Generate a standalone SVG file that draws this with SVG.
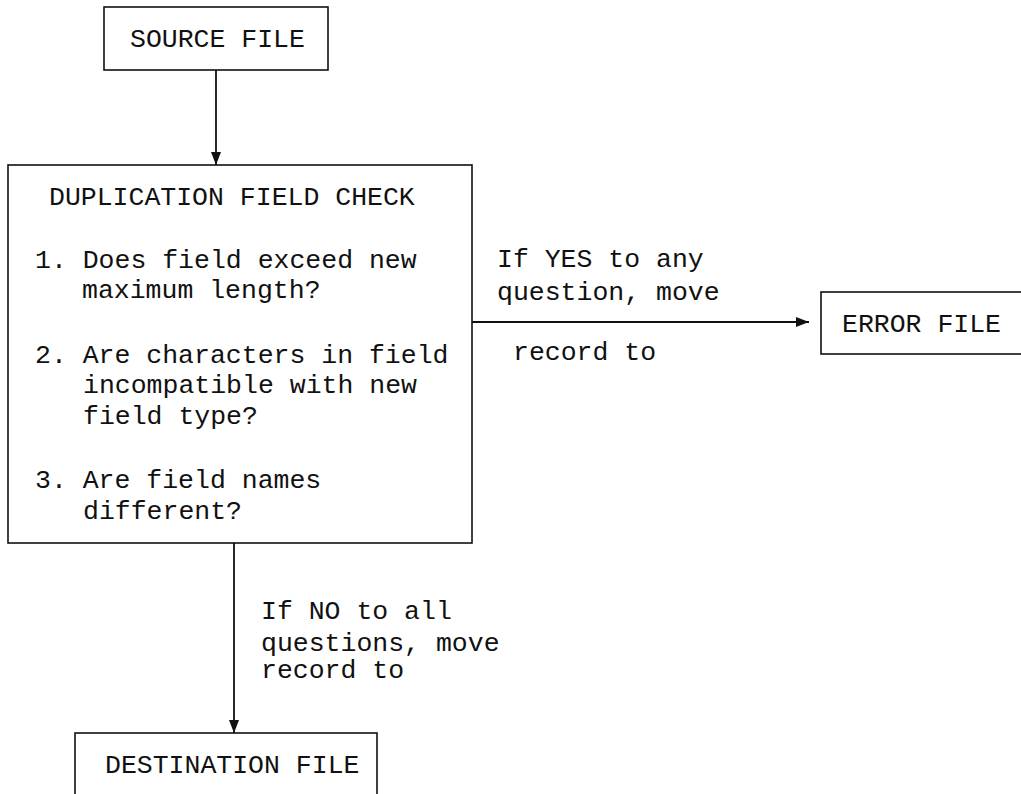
<svg xmlns="http://www.w3.org/2000/svg" width="1021" height="794" viewBox="0 0 1021 794">
<style>
.box{fill:#fff;stroke:#111;stroke-width:1.6}
.t{font-family:"Liberation Mono","DejaVu Sans Mono",monospace;font-size:26.5px;fill:#111}
.c{stroke:#111;stroke-width:1.8;fill:none}
</style>
<defs>
<marker id="ah" markerUnits="userSpaceOnUse" markerWidth="14" markerHeight="12" refX="13" refY="5" orient="auto">
<path d="M0,0 L13,5 L0,10 Z" fill="#111"/>
</marker>
</defs>
<rect width="1021" height="794" fill="#fff"/>
<g id="connectors">
<line class="c" x1="216" y1="70" x2="216" y2="165" marker-end="url(#ah)"/>
<line class="c" x1="472" y1="322" x2="809" y2="322" stroke-width="2.4" marker-end="url(#ah)"/>
<line class="c" x1="234" y1="543" x2="234" y2="733" marker-end="url(#ah)"/>
<text class="t" x="497" y="267">If YES to any</text>
<text class="t" x="497" y="300">question, move</text>
<text class="t" x="513" y="360">record to</text>
<text class="t" x="261" y="619">If NO to all</text>
<text class="t" x="261" y="651">questions, move</text>
<text class="t" x="261" y="678">record to</text>
</g>
<g id="source">
<rect class="box" x="104" y="7" width="224" height="63"/>
<text class="t" x="130" y="47">SOURCE FILE</text>
</g>
<g id="check">
<rect class="box" x="8" y="165" width="464" height="378"/>
<text class="t" x="49" y="205">DUPLICATION FIELD CHECK</text>
<text class="t" x="35" y="268">1. Does field exceed new</text>
<text class="t" x="82" y="298">maximum length?</text>
<text class="t" x="35" y="363">2. Are characters in field</text>
<text class="t" x="83" y="393">incompatible with new</text>
<text class="t" x="83" y="424">field type?</text>
<text class="t" x="35" y="488">3. Are field names</text>
<text class="t" x="83" y="519">different?</text>
</g>
<g id="error">
<rect class="box" x="821" y="292" width="215" height="62"/>
<text class="t" x="842" y="332">ERROR FILE</text>
</g>
<g id="destination">
<rect class="box" x="75" y="733" width="302" height="80"/>
<text class="t" x="105" y="773">DESTINATION FILE</text>
</g>
</svg>
